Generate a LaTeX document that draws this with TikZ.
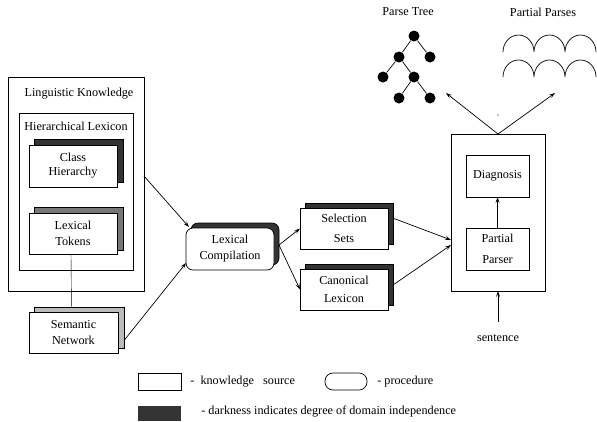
\documentclass[tikz,border=0pt]{standalone}
\usepackage{fontspec}
\setmainfont{Liberation Serif}
\usetikzlibrary{arrows.meta,backgrounds}
\definecolor{darkshade}{HTML}{333333}
\definecolor{midshade}{HTML}{777777}
\definecolor{lightshade}{HTML}{BBBBBB}
\begin{document}
\begin{tikzpicture}[x=1pt,y=-1pt,
  font=\fontsize{12.2}{16}\selectfont,
  line width=0.7pt,
  box/.style={draw, fill=white, inner sep=0pt, outer sep=0pt, align=center, anchor=north west},
  container/.style={draw, inner sep=0pt, outer sep=0pt, anchor=north west},
  shade/.style={draw},
  arr/.style={-{Stealth[length=6pt,width=4pt,inset=2.5pt]}},
  dot/.style={circle, fill=black, minimum size=11pt, inner sep=0pt},
  legtext/.style={anchor=west, inner sep=0pt}]
\useasboundingbox (0,0) rectangle (597,421);

% containers
\node[container, minimum width=136pt, minimum height=214pt] (lk) at (8,77) {};
\node (lkt) at (79,94) {Linguistic Knowledge};
\node[container, minimum width=114pt, minimum height=157pt] (hl) at (19,113) {};
\node (hlt) at (76,126) {Hierarchical Lexicon};

% shadows
\filldraw[shade, fill=darkshade] (34,139) rectangle (123,182);
\filldraw[shade, fill=midshade] (34,207) rectangle (123,250);
\filldraw[shade, fill=lightshade] (34,307) rectangle (124,348);
\filldraw[shade, fill=darkshade, rounded corners=7pt] (191,223) rectangle (279,265);
\filldraw[shade, fill=darkshade] (305,203) rectangle (393,244);
\filldraw[shade, fill=darkshade] (305,264) rectangle (393,305);

% knowledge sources / procedures
\node[box, minimum width=88pt, minimum height=42pt, font=\fontsize{12.2}{14}\selectfont] (ch) at (29,145) {Class\\Hierarchy};
\node[box, minimum width=88pt, minimum height=41pt] (tok) at (29,213) {Lexical\\Tokens};
\node[box, minimum width=89pt, minimum height=41pt] (sem) at (29,312) {Semantic\\Network};
\node[box, minimum width=88pt, minimum height=42pt, rounded corners=7pt] (lc) at (186,228) {Lexical\\Compilation};
\node[box, minimum width=88pt, minimum height=41pt, font=\fontsize{12.2}{20}\selectfont] (ss) at (300,208) {Selection\\Sets};
\node[box, minimum width=88pt, minimum height=41pt, font=\fontsize{12.2}{18}\selectfont] (cl) at (300,269) {Canonical\\Lexicon};

\node[container, minimum width=94pt, minimum height=157pt] (parser) at (451,134) {};
\node[box, minimum width=63pt, minimum height=42pt] (diag) at (466,155) {Diagnosis};
\node[box, minimum width=63pt, minimum height=42pt, font=\fontsize{12.2}{21}\selectfont] (ppar) at (466,228) {Partial\\Parser};

% connectors
\begin{scope}[on background layer]
\draw ([xshift=-2pt]tok.south) -- ([xshift=-2pt]sem.north);
\end{scope}
\draw[arr] ([yshift=8pt]lk.east) -- ([xshift=3pt,yshift=1pt]lc.north west);
\draw[arr] ([xshift=6pt,yshift=-8pt]sem.east) -- ([yshift=-14pt]lc.west);
\draw[arr] ([xshift=5pt,yshift=4pt]lc.east) -- (ss.west);
\draw[arr] ([xshift=5pt,yshift=4pt]lc.east) -- (cl.west);
\draw[arr] ([xshift=6pt,yshift=10pt]ss.east) -- ([yshift=-27.5pt]parser.west);
\draw[arr] ([xshift=5pt,yshift=4.5pt]cl.east) -- ([yshift=-32.5pt]parser.west);
\draw[arr] (ppar.north) -- (diag.south);

\node (sent) at (498,338) {sentence};
\draw[arr] ([yshift=9pt]sent.north) -- (parser.south);

\coordinate (outl) at (446,93);
\coordinate (outr) at (555,93);
\draw[arr] (parser.north) -- (outl);
\draw[arr] (parser.north) -- (outr);
\fill (498,115) circle (0.6pt);

% parse tree
\node (ptl) at (408,12) {Parse Tree};
\node[dot] (t1) at (414,36) {};
\node[dot] (t2) at (399,57) {};
\node[dot] (t3) at (430,57) {};
\node[dot] (t4) at (383,77) {};
\node[dot] (t5) at (414,77) {};
\node[dot] (t6) at (399,98) {};
\node[dot] (t7) at (430,98) {};
\draw (t1) -- (t2) (t1) -- (t3) (t2) -- (t4) (t2) -- (t5) (t5) -- (t6) (t5) -- (t7);

% partial parses
\node (ppl) at (543,12) {Partial Parses};
\draw (503,52) arc[start angle=180,end angle=0,x radius=15.5pt,y radius=17pt]
               arc[start angle=180,end angle=0,x radius=15.5pt,y radius=17pt]
               arc[start angle=180,end angle=0,x radius=15.5pt,y radius=17pt];
\draw (503,77) arc[start angle=180,end angle=0,x radius=15.5pt,y radius=17pt]
               arc[start angle=180,end angle=0,x radius=15.5pt,y radius=17pt]
               arc[start angle=180,end angle=0,x radius=15.5pt,y radius=17pt];

% legend
\draw (138,373) rectangle (181,390);
\node[legtext] (lks) at (190,382) {-\ \ knowledge\ \ \ source};
\draw[rounded corners=8pt] (325,373) rectangle (367,390);
\node[legtext] (lpr) at (377,382) {- procedure};
\fill[darkshade] (138,406) rectangle (181,421);
\node[legtext] (ldk) at (201,412) {- darkness indicates degree of domain independence};
\end{tikzpicture}
\end{document}
